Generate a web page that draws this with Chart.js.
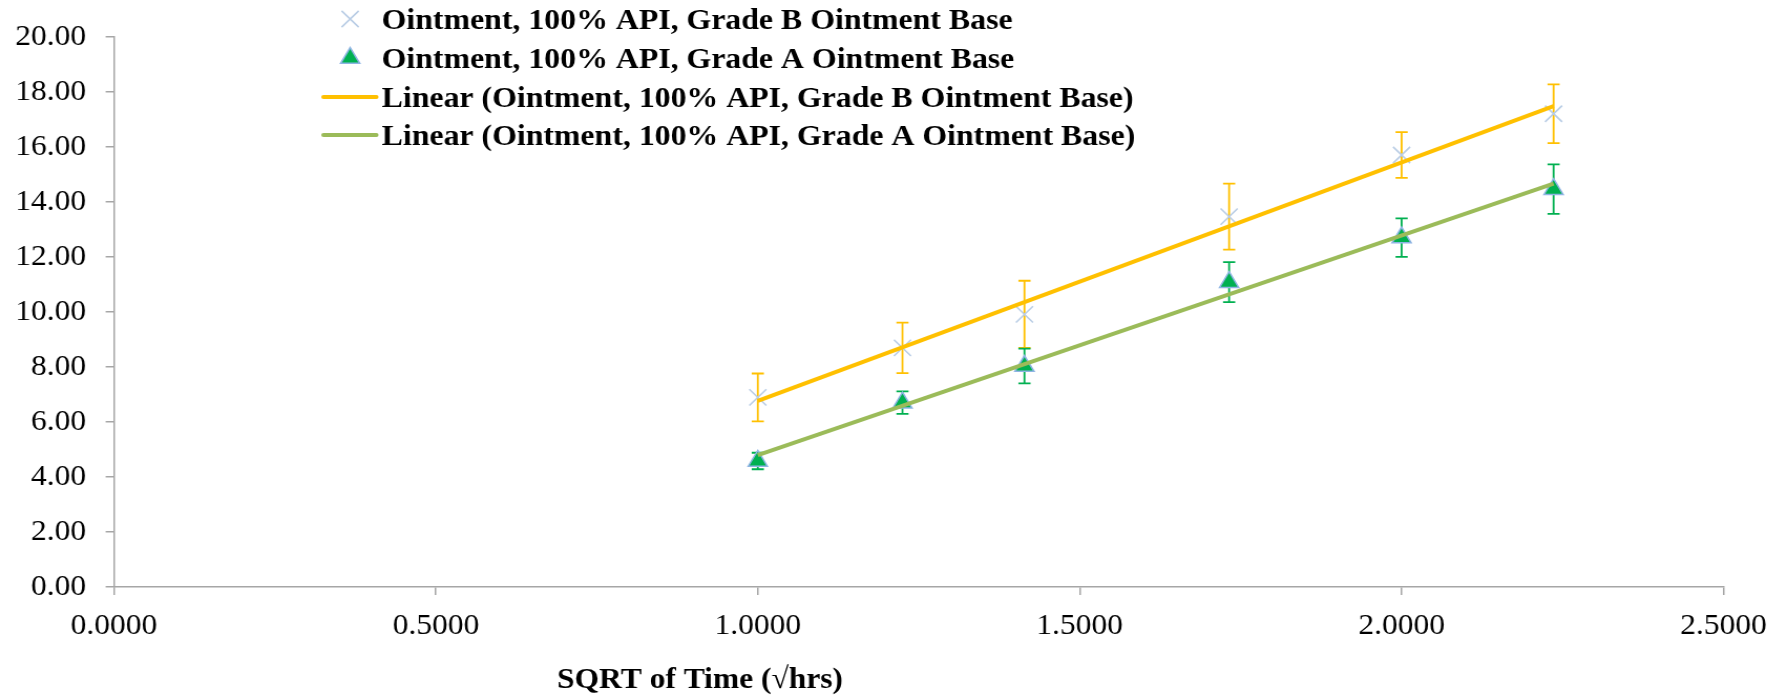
<!DOCTYPE html>
<html>
<head>
<meta charset="utf-8">
<script src="https://cdn.jsdelivr.net/npm/chart.js@4.4.1/dist/chart.umd.min.js"></script>
<style>
  html, body { margin: 0; padding: 0; background: #ffffff; overflow: hidden; }
  #release { display: block; }
</style>
</head>
<body>
<!-- drawn at 1702 px wide and widened to the page width -->
<canvas id="release" width="1702" height="696" style="width:1787px;height:696px"></canvas>
<script>
// square root of sampling time (√hrs)
const sqrtTime = [1.0000, 1.2247, 1.4142, 1.7321, 2.0000, 2.2361];

// cumulative release, Grade B ointment base, with its error bar half-widths
const gradeB    = [6.89, 8.69, 9.91, 13.46, 15.70, 17.20];
const gradeBErr = [0.87, 0.92, 1.22, 1.20, 0.83, 1.07];

// cumulative release, Grade A ointment base, with its error bar half-widths
const gradeA    = [4.58, 6.70, 8.03, 11.08, 12.70, 14.46];
const gradeAErr = [0.30, 0.41, 0.63, 0.73, 0.70, 0.90];

// axis ranges and tick steps
const xRange = [0, 2.5];
const xStep = 0.5;
const yRange = [0, 20];
const yStep = 2;

const labelB = 'Ointment, 100% API, Grade B Ointment Base';
const labelA = 'Ointment, 100% API, Grade A Ointment Base';
const xAxisTitle = 'SQRT of Time (\u221Ahrs)';

const AXIS_GRAY = '#a6a6a6';
const FONT = 'Liberation Serif';

// least-squares line through a series, evaluated at its first and last x
function linearTrend(xs, ys) {
  const n = xs.length;
  const mx = xs.reduce((a, b) => a + b, 0) / n;
  const my = ys.reduce((a, b) => a + b, 0) / n;
  let sxy = 0, sxx = 0;
  for (let i = 0; i < n; i++) {
    sxy += (xs[i] - mx) * (ys[i] - my);
    sxx += (xs[i] - mx) * (xs[i] - mx);
  }
  const slope = sxy / sxx;
  const icpt = my - slope * mx;
  const x0 = Math.min(...xs), x1 = Math.max(...xs);
  return [{ x: x0, y: icpt + slope * x0 }, { x: x1, y: icpt + slope * x1 }];
}

const toPoints = (xs, ys) => xs.map((x, i) => ({ x: x, y: ys[i] }));

// vertical error bars with caps, under the markers
const errorBars = {
  id: 'errorBars',
  beforeDatasetsDraw(chart) {
    const { ctx, scales: { x, y } } = chart;
    const sets = [
      { vals: gradeB, errs: gradeBErr, color: '#ffc000' },
      { vals: gradeA, errs: gradeAErr, color: '#00b050' }
    ];
    const cap = 5.8;
    ctx.save();
    ctx.lineWidth = 1.8;
    sets.forEach(s => {
      ctx.strokeStyle = s.color;
      sqrtTime.forEach((t, i) => {
        const px = x.getPixelForValue(t);
        const top = y.getPixelForValue(s.vals[i] + s.errs[i]);
        const bot = y.getPixelForValue(s.vals[i] - s.errs[i]);
        ctx.beginPath();
        ctx.moveTo(px, top); ctx.lineTo(px, bot);
        ctx.moveTo(px - cap, top); ctx.lineTo(px + cap, top);
        ctx.moveTo(px - cap, bot); ctx.lineTo(px + cap, bot);
        ctx.stroke();
      });
    });
    ctx.restore();
  }
};

// legend in the upper part of the plot, one entry per row
const overlayLegend = {
  id: 'overlayLegend',
  afterDraw(chart) {
    const { ctx } = chart;
    const ds = chart.data.datasets;
    const markX = 333.5, lineX0 = 308, lineX1 = 358.5, textX = 363.5;
    const rows = [19, 58, 97, 135];
    ctx.save();
    ctx.font = 'bold 30.3px "' + FONT + '"';
    ctx.textBaseline = 'middle';
    ctx.textAlign = 'left';
    ds.forEach((d, i) => {
      const yy = rows[i];
      if (d.showLine) {
        ctx.strokeStyle = d.borderColor;
        ctx.lineWidth = d.borderWidth;
        ctx.lineCap = 'round';
        ctx.beginPath();
        ctx.moveTo(lineX0, yy); ctx.lineTo(lineX1, yy);
        ctx.stroke();
      } else {
        ctx.fillStyle = d.pointBackgroundColor;
        ctx.strokeStyle = d.pointBorderColor;
        ctx.lineWidth = d.pointBorderWidth;
        Chart.helpers.drawPoint(ctx, {
          pointStyle: d.pointStyle, radius: d.pointRadius, rotation: 0, borderWidth: d.pointBorderWidth
        }, markX, yy);
      }
      ctx.fillStyle = '#000000';
      ctx.fillText(d.label, textX, yy + 2);
    });
    ctx.restore();
  }
};

// horizontal axis title
const axisTitle = {
  id: 'axisTitle',
  afterDraw(chart) {
    const { ctx } = chart;
    ctx.save();
    ctx.font = 'bold 30px "' + FONT + '"';
    ctx.fillStyle = '#000000';
    ctx.textAlign = 'left';
    ctx.textBaseline = 'alphabetic';
    ctx.fillText(xAxisTitle, 530.5, 688);
    ctx.restore();
  }
};

const tickFont = { family: FONT, size: 30 };

new Chart(document.getElementById('release'), {
  type: 'scatter',
  data: {
    datasets: [
      {
        label: labelB,
        data: toPoints(sqrtTime, gradeB),
        pointStyle: 'crossRot',
        pointRadius: 11.5,
        pointBorderWidth: 1.6,
        pointBorderColor: '#b9cde5',
        pointBackgroundColor: '#b9cde5',
        showLine: false,
        order: 1
      },
      {
        label: labelA,
        data: toPoints(sqrtTime, gradeA),
        pointStyle: 'triangle',
        pointRadius: 10.5,
        pointBorderWidth: 1.5,
        pointBorderColor: '#8eb4e3',
        pointBackgroundColor: '#00b050',
        showLine: false,
        order: 1
      },
      {
        label: 'Linear (' + labelB + ')',
        data: linearTrend(sqrtTime, gradeB),
        showLine: true,
        borderColor: '#ffc000',
        borderWidth: 4,
        pointRadius: 0,
        order: 0
      },
      {
        label: 'Linear (' + labelA + ')',
        data: linearTrend(sqrtTime, gradeA),
        showLine: true,
        borderColor: '#9bbb59',
        borderWidth: 4,
        pointRadius: 0,
        order: 0
      }
    ]
  },
  options: {
    responsive: false,
    animation: false,
    devicePixelRatio: 1,
    layout: { padding: { left: 14.4, right: 60.5, top: 34, bottom: 36 } },
    plugins: { legend: { display: false }, tooltip: { enabled: false } },
    scales: {
      x: {
        type: 'linear',
        min: xRange[0],
        max: xRange[1],
        afterFit(scale) { scale.height = 73; },
        ticks: {
          stepSize: xStep,
          callback: v => Number(v).toFixed(4),
          font: tickFont,
          color: '#000000',
          padding: 13,
          maxRotation: 0,
          autoSkip: false
        },
        grid: { drawOnChartArea: false, drawTicks: true, tickLength: 8, color: AXIS_GRAY, lineWidth: 1.5 },
        border: { display: true, color: AXIS_GRAY, width: 1.5 }
      },
      y: {
        type: 'linear',
        min: yRange[0],
        max: yRange[1],
        afterFit(scale) { scale.width = 94.2; },
        ticks: {
          stepSize: yStep,
          callback: v => Number(v).toFixed(2),
          font: tickFont,
          color: '#000000',
          padding: 18.7,
          autoSkip: false
        },
        grid: { drawOnChartArea: false, drawTicks: true, tickLength: 8, color: AXIS_GRAY, lineWidth: 1.5 },
        border: { display: true, color: AXIS_GRAY, width: 1.5 }
      }
    }
  },
  plugins: [errorBars, overlayLegend, axisTitle]
});
</script>
</body>
</html>
